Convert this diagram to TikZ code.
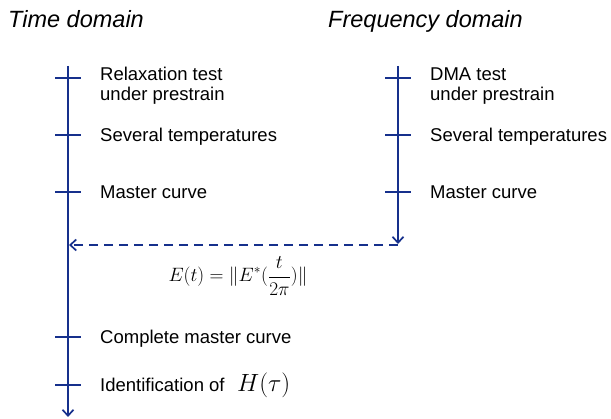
\documentclass[tikz,border=0pt]{standalone}
\usepackage{fontspec}
\setmainfont{Liberation Sans}
\usetikzlibrary{arrows.meta}
\definecolor{lineblue}{RGB}{22,48,140}

\begin{document}
\begin{tikzpicture}[x=1pt,y=-1pt,
  axis/.style={draw=lineblue, line width=1.7pt},
  tick/.style={draw=lineblue, line width=1.7pt},
  lbl/.style={anchor=base west, align=left, inner sep=0pt, font=\fontsize{18.5}{20.5}\selectfont},
  head/.style={anchor=base west, inner sep=0pt, font=\fontsize{23.5}{27}\selectfont\itshape}]
\useasboundingbox (0,0) rectangle (611,419);

% headings
\node[head] (timehead) at (8,28) {Time domain};
\node[head] (freqhead) at (328,28) {Frequency domain};

% time axis
\coordinate (tTop) at (68,66);
\coordinate (tEnd) at (68,417);
\draw[axis, -{Straight Barb[length=6pt,width=11pt]}] (tTop) -- (tEnd);
\foreach \y/\n in {78/1, 135/2, 192/3, 337/4, 385/5} {
  \coordinate (tl\n) at (55,\y);
  \coordinate (tr\n) at (81,\y);
  \draw[tick] (tl\n) -- (tr\n);
}

% frequency axis
\coordinate (fTop) at (398,66);
\coordinate (fEnd) at (398,244);
\draw[axis, -{Straight Barb[length=6pt,width=11pt]}] (fTop) -- (fEnd);
\foreach \y/\n in {78/1, 135/2, 192/3} {
  \coordinate (fl\n) at (385,\y);
  \coordinate (fr\n) at (411,\y);
  \draw[tick] (fl\n) -- (fr\n);
}

% conversion
\coordinate (dashStart) at (398,245);
\coordinate (dashEnd) at (69,245);
\draw[axis, dash pattern=on 9pt off 6pt, -{Straight Barb[length=6pt,width=11pt]}] (dashStart) -- (dashEnd);
\node[inner sep=0pt, scale=1.12, font=\fontsize{17.28}{21}\selectfont] (conv) at (238,276)
  {$\displaystyle E(t) = \|E^{*}(\frac{t}{2\pi})\|$};

% time labels
\node[lbl] (relax) at (100,101) {Relaxation test\\under prestrain};
\node[lbl] (tsev) at (100,142) {Several temperatures};
\node[lbl] (tmaster) at (100,199) {Master curve};
\node[lbl] (complete) at (100,344) {Complete master curve};
\node[lbl] (ident) at (100,392) {Identification of \hspace{0.4em}{\fontsize{26}{30}\selectfont$H(\tau)$}};

% frequency labels
\node[lbl] (dma) at (430,101) {DMA test\\under prestrain};
\node[lbl] (fsev) at (430,142) {Several temperatures};
\node[lbl] (fmaster) at (430,199) {Master curve};
\end{tikzpicture}
\end{document}
